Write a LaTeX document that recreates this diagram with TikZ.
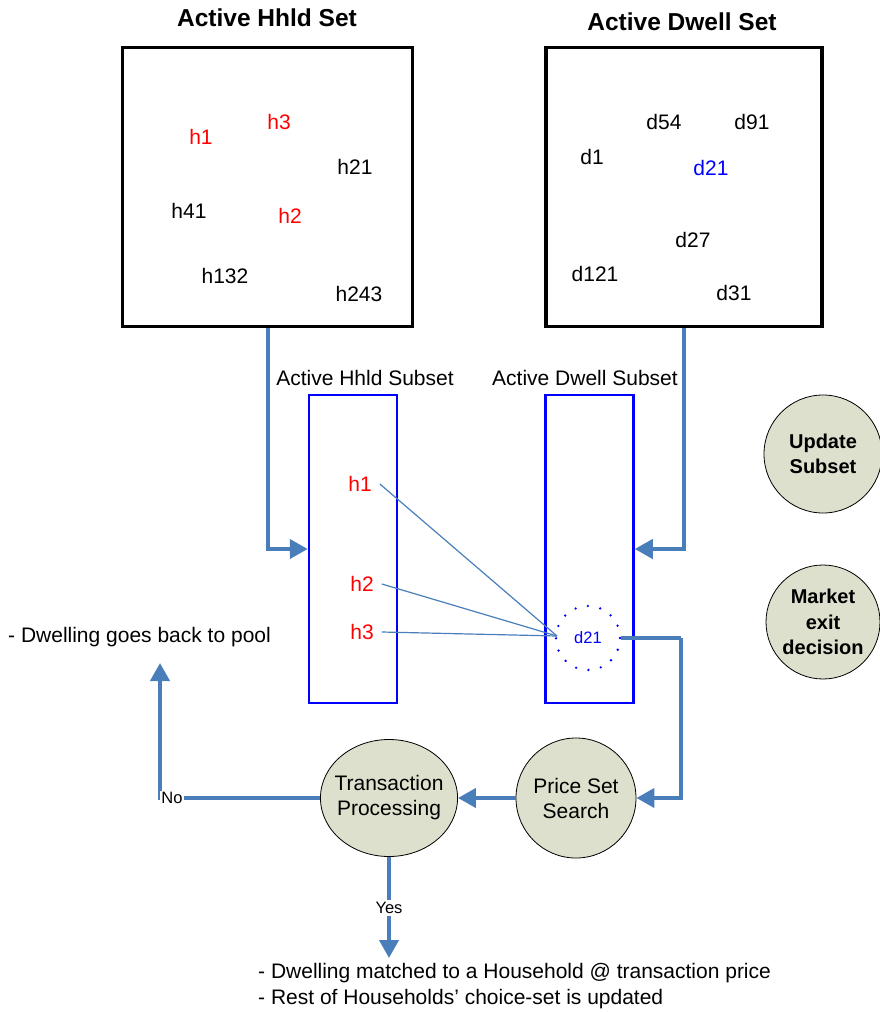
\documentclass[tikz,border=0pt]{standalone}
\usepackage{fontspec}
\setmainfont{Liberation Sans}
\usetikzlibrary{arrows.meta,shapes.geometric}
\definecolor{flowblue}{RGB}{74,126,187}
\definecolor{procfill}{RGB}{221,224,204}
\definecolor{pureblue}{RGB}{0,0,255}
\definecolor{purered}{RGB}{255,0,0}
\tikzset{
  setbox/.style={draw=black,line width=3.5pt,minimum height=279pt},
  subbox/.style={draw=pureblue,line width=2.5pt,minimum width=88pt,minimum height=308pt},
  ttl/.style={font=\fontsize{24.5}{28}\selectfont\bfseries},
  lbl/.style={font=\fontsize{21}{24}\selectfont},
  itm/.style={font=\fontsize{21}{24}\selectfont,inner sep=1pt},
  hred/.style={itm,text=purered},
  small/.style={font=\fontsize{16.5}{19}\selectfont},
  flow/.style={draw=flowblue,line width=4pt,-{Triangle[length=18pt,width=19pt]}},
  flowplain/.style={draw=flowblue,line width=4pt},
  thin/.style={draw=flowblue,line width=1.2pt},
  proc/.style={draw=black,line width=0.8pt,fill=procfill,circle,align=center,font=\fontsize{21}{25}\selectfont},
  procb/.style={proc,font=\fontsize{20}{25.5}\selectfont\bfseries},
}
\begin{document}
\begin{tikzpicture}[x=1pt,y=-1pt]
\useasboundingbox (0,0) rectangle (880,1012);
% titles
\node[ttl] (t1) at (267,18) {Active Hhld Set};
\node[ttl] (t2) at (682,22) {Active Dwell Set};
% set boxes
\node[setbox,minimum width=290pt] (hs) at (267.5,187) {};
\node[setbox,minimum width=276pt] (ds) at (684,187) {};
% household items
\node[hred] (a1) at (201,137) {h1};
\node[hred] (a3) at (279,122) {h3};
\node[itm] (a21) at (355,167) {h21};
\node[itm] (a41) at (189,211) {h41};
\node[hred] (a2) at (290,216) {h2};
\node[itm] (a132) at (225,276) {h132};
\node[itm] (a243) at (359,294) {h243};
% dwelling items
\node[itm] (b54) at (664,122) {d54};
\node[itm] (b91) at (752,122) {d91};
\node[itm] (b1) at (592,157) {d1};
\node[itm,text=pureblue] (b21) at (711,168) {d21};
\node[itm] (b27) at (693,240) {d27};
\node[itm] (b121) at (595,274) {d121};
\node[itm] (b31) at (734,293) {d31};
% subset titles
\node[lbl] (st1) at (365,378) {Active Hhld Subset};
\node[lbl] (st2) at (585,378) {Active Dwell Subset};
% subset boxes
\node[subbox] (hsub) at (353,549) {};
\node[subbox] (dsub) at (589.5,549) {};
% subset items
\node[hred] (s1) at (360,484) {h1};
\node[hred] (s2) at (362,584) {h2};
\node[hred] (s3) at (362,632) {h3};
\node[circle,draw=pureblue,line width=2.6pt,line cap=round,dash pattern=on 0pt off 12.6pt,minimum size=64pt,inner sep=0pt,small,text=pureblue] (dc) at (588,638) {d21};
\coordinate (dcin) at (557,636);
\draw[thin] (s1.east) ++(7,0) -- (dcin);
\draw[thin] (s2.east) ++(7,0) -- (dcin);
\draw[thin] (s3.east) ++(7,0) -- (dcin);
% arrows from sets to subsets
\draw[flow] (hs.south) |- (hsub.west);
\draw[flow] (ds.south) |- (dsub.east);
% process nodes
\node[proc,minimum size=120pt,inner sep=0pt] (pss) at (576,798) {Price Set\\Search};
\node[proc,ellipse,minimum width=137pt,minimum height=117pt,inner xsep=-6pt,inner ysep=0pt] (tp) at (389,798) {Transaction\\Processing};
\node[procb,minimum size=118pt,inner sep=0pt] (us) at (823,454) {Update\\Subset};
\node[procb,minimum size=114pt,inner sep=0pt] (me) at (823,622) {Market\\exit\\decision};
% d21 to price set search
\coordinate (k1) at (681,638);
\draw[flowplain] (dc.east) -- (k1);
\draw[flow] (k1) |- (pss.east);
\draw[flow] (pss.west) -- (tp.east);
% No branch
\coordinate (k2) at (160,663);
\draw[flow] (tp.west) -| (k2);
\node[small,fill=white,inner sep=1pt] (no) at (172,798) {No};
\node[lbl,anchor=west,inner sep=0pt] (pool) at (8,637) {- Dwelling goes back to pool};
% Yes branch
\coordinate (k3) at (389,958);
\draw[flow] (tp.south) -- (k3);
\node[small,fill=white,inner sep=2pt] (yes) at (389,908) {Yes};
\node[lbl,anchor=west,inner sep=0pt] (r1) at (258,973) {- Dwelling matched to a Household @ transaction price};
\node[lbl,anchor=west,inner sep=0pt] (r2) at (258,999) {- Rest of Households’ choice-set is updated};
\end{tikzpicture}
\end{document}
